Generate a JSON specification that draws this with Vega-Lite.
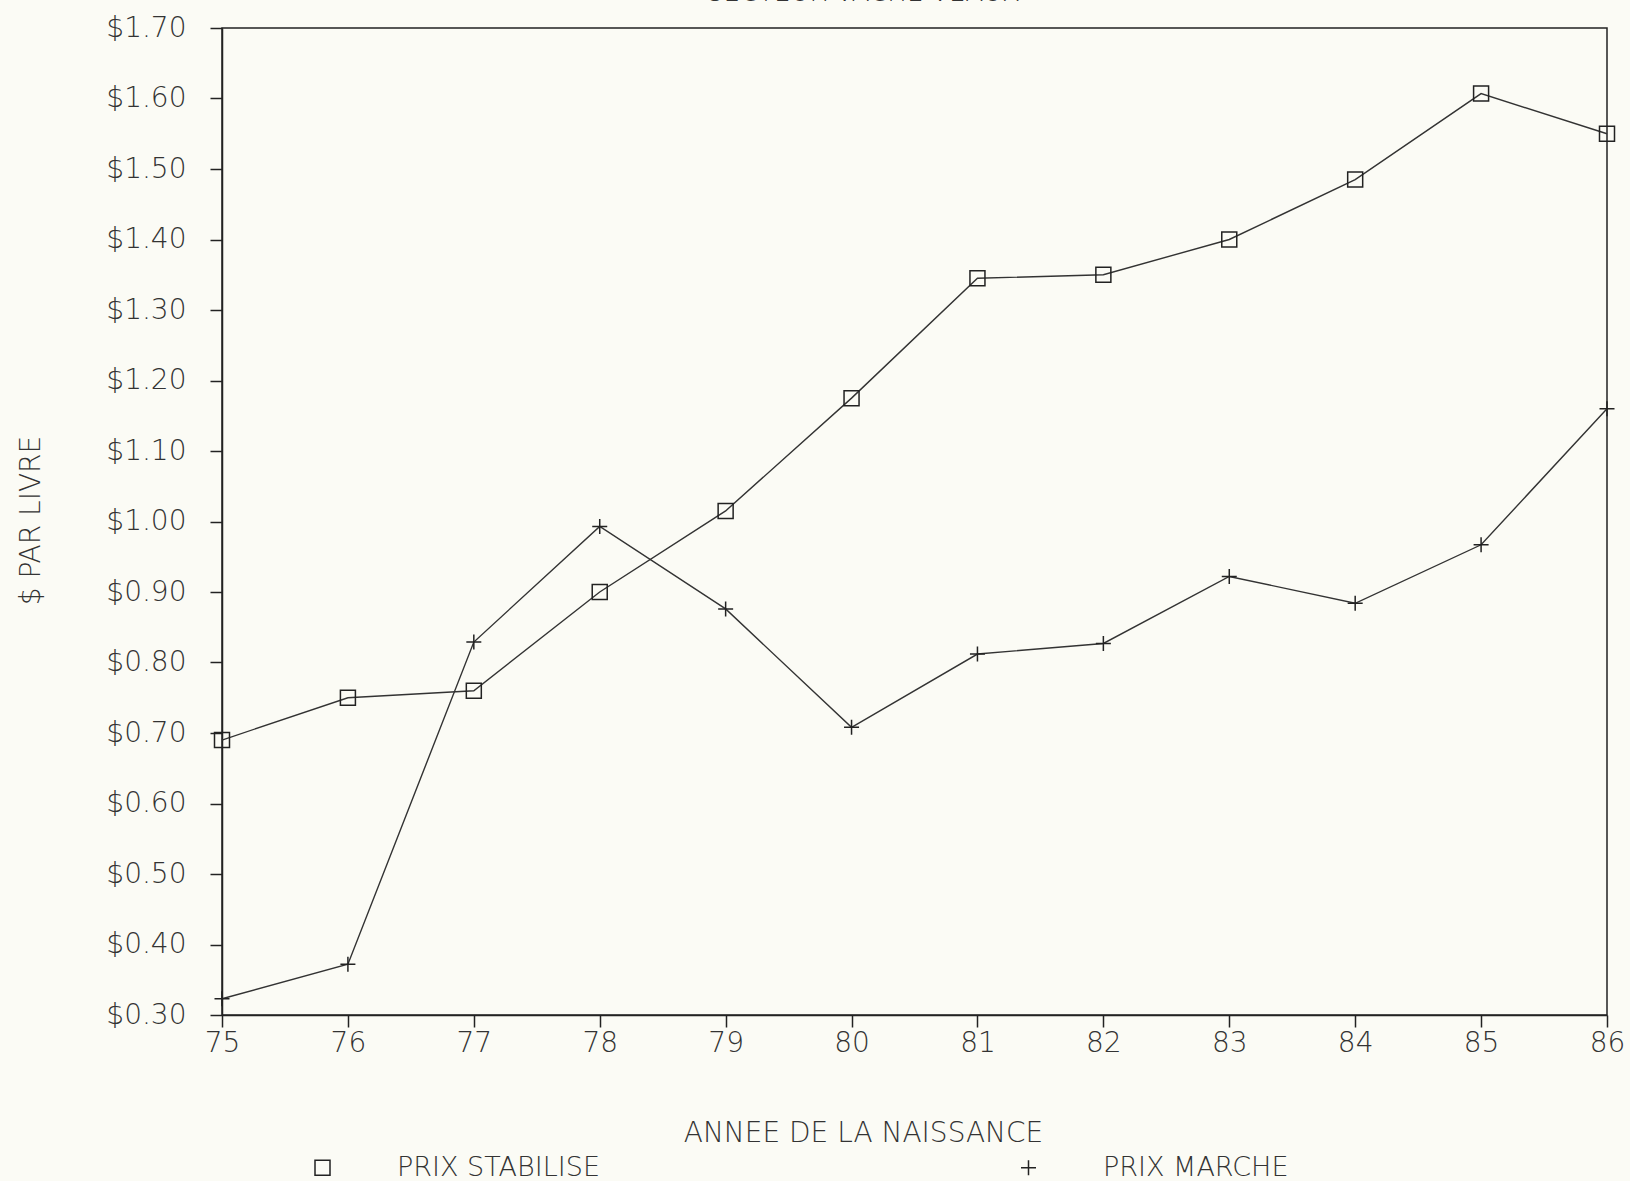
{
  "$schema": "https://vega.github.io/schema/vega-lite/v6.json",
  "width": 1385,
  "height": 987,
  "autosize": {"type": "none"},
  "padding": {"left": 222, "top": 28, "right": 23, "bottom": 166},
  "background": "#fbfbf5",
  "title": {"text": "SECTEUR VACHE-VEAUX", "anchor": "middle", "dx": -51, "offset": 8, "fontSize": 26, "font": "DejaVu Sans", "fontWeight": 300, "color": "#333"},
  "config": {
    "view": {"stroke": "#222", "strokeWidth": 1.5},
    "axis": {"grid": false, "domainColor": "#222", "tickColor": "#222", "domainWidth": 1.5, "tickWidth": 1.5, "labelFont": "DejaVu Sans", "labelFontWeight": 300, "labelColor": "#333", "labelFontSize": 28, "titleFont": "DejaVu Sans", "titleFontWeight": 300, "titleColor": "#333", "titleFontSize": 28}
  },
  "data": {"values": [
    {"annee": 75, "serie": "PRIX STABILISE", "prix": 0.69},
    {"annee": 76, "serie": "PRIX STABILISE", "prix": 0.75},
    {"annee": 77, "serie": "PRIX STABILISE", "prix": 0.76},
    {"annee": 78, "serie": "PRIX STABILISE", "prix": 0.90},
    {"annee": 79, "serie": "PRIX STABILISE", "prix": 1.015},
    {"annee": 80, "serie": "PRIX STABILISE", "prix": 1.175},
    {"annee": 81, "serie": "PRIX STABILISE", "prix": 1.345},
    {"annee": 82, "serie": "PRIX STABILISE", "prix": 1.35},
    {"annee": 83, "serie": "PRIX STABILISE", "prix": 1.40},
    {"annee": 84, "serie": "PRIX STABILISE", "prix": 1.485},
    {"annee": 85, "serie": "PRIX STABILISE", "prix": 1.607},
    {"annee": 86, "serie": "PRIX STABILISE", "prix": 1.55},
    {"annee": 75, "serie": "PRIX MARCHE", "prix": 0.323},
    {"annee": 76, "serie": "PRIX MARCHE", "prix": 0.372},
    {"annee": 77, "serie": "PRIX MARCHE", "prix": 0.829},
    {"annee": 78, "serie": "PRIX MARCHE", "prix": 0.993},
    {"annee": 79, "serie": "PRIX MARCHE", "prix": 0.876},
    {"annee": 80, "serie": "PRIX MARCHE", "prix": 0.708},
    {"annee": 81, "serie": "PRIX MARCHE", "prix": 0.812},
    {"annee": 82, "serie": "PRIX MARCHE", "prix": 0.827},
    {"annee": 83, "serie": "PRIX MARCHE", "prix": 0.922},
    {"annee": 84, "serie": "PRIX MARCHE", "prix": 0.884},
    {"annee": 85, "serie": "PRIX MARCHE", "prix": 0.967},
    {"annee": 86, "serie": "PRIX MARCHE", "prix": 1.16}
  ]},
  "encoding": {
    "x": {"field": "annee", "type": "quantitative", "scale": {"domain": [75, 86], "nice": false, "zero": false},
      "axis": {"values": [75,76,77,78,79,80,81,82,83,84,85,86], "format": "d", "tickSize": 12, "labelPadding": 2, "labelFlush": false, "title": "ANNEE DE LA NAISSANCE", "titleX": 641, "titleY": 118, "titleBaseline": "middle", "titleAnchor": null}},
    "y": {"field": "prix", "type": "quantitative", "scale": {"domain": [0.3, 1.7], "nice": false, "zero": false},
      "axis": {"values": [0.3,0.4,0.5,0.6,0.7,0.8,0.9,1.0,1.1,1.2,1.3,1.4,1.5,1.6,1.7], "format": "$.2f", "tickSize": 12, "labelPadding": 24, "labelFlush": false, "title": "$ PAR LIVRE", "titleX": -191, "titleY": 492, "titleAngle": -90, "titleBaseline": "middle", "titleAnchor": null}}
  },
  "layer": [
    {"mark": {"type": "line", "color": "#333", "strokeWidth": 1.4},
     "encoding": {"detail": {"field": "serie"}}},
    {"mark": {"type": "point", "filled": false, "color": "#222", "strokeWidth": 1.5, "opacity": 1},
     "encoding": {
       "shape": {"field": "serie", "type": "nominal",
         "scale": {"domain": ["PRIX STABILISE", "PRIX MARCHE"], "range": ["square", "M-1,0H1M0,-1V1"]},
         "legend": {"title": null, "orient": "none", "direction": "horizontal", "legendX": 87, "legendY": 1126,
           "symbolSize": 225, "symbolStrokeColor": "#222", "symbolStrokeWidth": 1.5, "symbolFillColor": "transparent",
           "labelFont": "DejaVu Sans", "labelFontWeight": 300, "labelFontSize": 27, "labelColor": "#333", "labelLimit": 600,
           "labelOffset": 61, "columnPadding": 415}},
       "size": {"value": 225}
     }}
  ]
}
